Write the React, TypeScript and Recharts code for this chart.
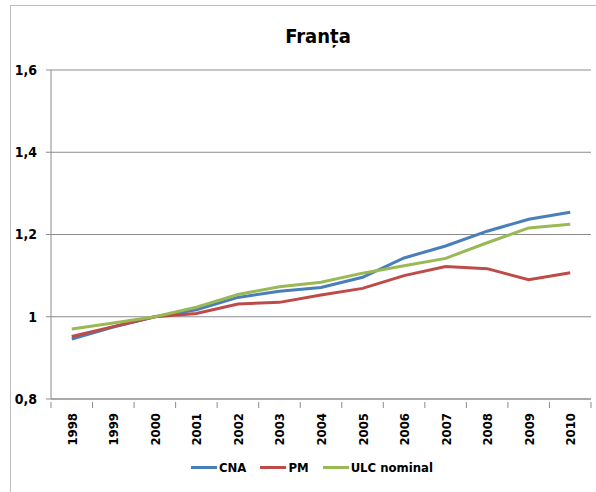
import React from 'react';
import { LineChart, Line, XAxis, YAxis, CartesianGrid, Legend } from 'recharts';

const years = ['1998', '1999', '2000', '2001', '2002', '2003', '2004', '2005', '2006', '2007', '2008', '2009', '2010'];
const cna = [0.946, 0.975, 1.0, 1.017, 1.047, 1.062, 1.071, 1.096, 1.143, 1.172, 1.208, 1.237, 1.254];
const pm = [0.952, 0.976, 1.0, 1.008, 1.031, 1.035, 1.053, 1.069, 1.1, 1.122, 1.117, 1.09, 1.107];
const ulc = [0.97, 0.985, 1.0, 1.023, 1.054, 1.073, 1.084, 1.106, 1.124, 1.142, 1.18, 1.216, 1.225];
const yTicks = [0.8, 1, 1.2, 1.4, 1.6];

const series = [
  { key: 'cna', name: 'CNA', color: '#4A7EBB' },
  { key: 'pm', name: 'PM', color: '#BE4B48' },
  { key: 'ulc', name: 'ULC nominal', color: '#98B954' },
];

const data = years.map((year, i) => ({ idx: i, year, cna: cna[i], pm: pm[i], ulc: ulc[i] }));

const W = 596;
const H = 492;
const FONT = "'Liberation Sans Narrow', 'DejaVu Sans Condensed', 'Liberation Sans', sans-serif";
const margin = { top: 70, right: 5, bottom: 43, left: 0 };
const yAxisW = 51;
const step = (W - margin.left - margin.right - yAxisW) / years.length;

function YearTick(props: any) {
  const { x, y, payload } = props;
  const i = payload.value as number;
  return (
    <g>
      {i === 0 && <line x1={x - step / 2} x2={x - step / 2} y1={y - 5} y2={y + 1} stroke="#8c8c8c" />}
      <line x1={x + step / 2} x2={x + step / 2} y1={y - 5} y2={y + 1} stroke="#8c8c8c" />
      <text
        x={0}
        y={0}
        transform={`translate(${x + 5}, ${y + 6}) rotate(-90)`}
        textAnchor="end"
        fontSize={13}
        fontWeight="bold"
        fill="#000"
        fontFamily={FONT}
      >
        {years[i]}
      </text>
    </g>
  );
}

function LegendContent() {
  return (
    <div style={{ display: 'flex', justifyContent: 'center', gap: 14, fontFamily: FONT, fontWeight: 'bold', fontSize: 13 }}>
      {series.map((s) => (
        <div key={s.key} style={{ display: 'flex', alignItems: 'center' }}>
          <span style={{ display: 'inline-block', width: 26, height: 3, background: s.color, marginRight: 2 }} />
          <span style={{ color: '#000' }}>{s.name}</span>
        </div>
      ))}
    </div>
  );
}

export default function App() {
  return (
    <div style={{ position: 'absolute', left: 0, top: 0, width: W, height: H, background: '#fff', overflow: 'hidden' }}>
      <div style={{ position: 'absolute', left: 10, top: 5, width: W, height: H, border: '1px solid #bdbdbd', boxSizing: 'border-box' }} />
      <div
        style={{
          position: 'absolute',
          left: 0,
          top: 24,
          width: 636,
          textAlign: 'center',
          fontFamily: FONT,
          fontWeight: 'bold',
          fontSize: 20,
          color: '#000',
        }}
      >
        Franța
      </div>
      <LineChart width={W} height={H} data={data} margin={margin} style={{ position: 'absolute', left: 0, top: 0 }}>
        <CartesianGrid vertical={false} stroke="#8c8c8c" strokeWidth={1} />
        <XAxis
          dataKey="idx"
          type="number"
          domain={[-0.5, 12.5]}
          ticks={years.map((_, i) => i)}
          interval={0}
          height={50}
          tickLine={false}
          axisLine={{ stroke: '#8c8c8c' }}
          tick={<YearTick />}
        />
        <YAxis
          width={yAxisW}
          domain={[0.8, 1.6]}
          ticks={yTicks}
          interval={0}
          tickSize={5}
          tickMargin={9}
          axisLine={{ stroke: '#8c8c8c' }}
          tickLine={{ stroke: '#8c8c8c' }}
          tickFormatter={(v: number) => String(Number(v.toFixed(1))).replace('.', ',')}
          tick={{ fontSize: 14, fontWeight: 'bold', fill: '#000', fontFamily: FONT }}
        />
        <Legend
          layout="horizontal"
          verticalAlign="middle"
          align="center"
          wrapperStyle={{ top: 460, left: 14, width: W }}
          content={<LegendContent />}
        />
        {series.map((s) => (
          <Line
            key={s.key}
            dataKey={s.key}
            name={s.name}
            stroke={s.color}
            strokeWidth={3}
            dot={false}
            activeDot={false}
            type="linear"
            isAnimationActive={false}
          />
        ))}
      </LineChart>
    </div>
  );
}
